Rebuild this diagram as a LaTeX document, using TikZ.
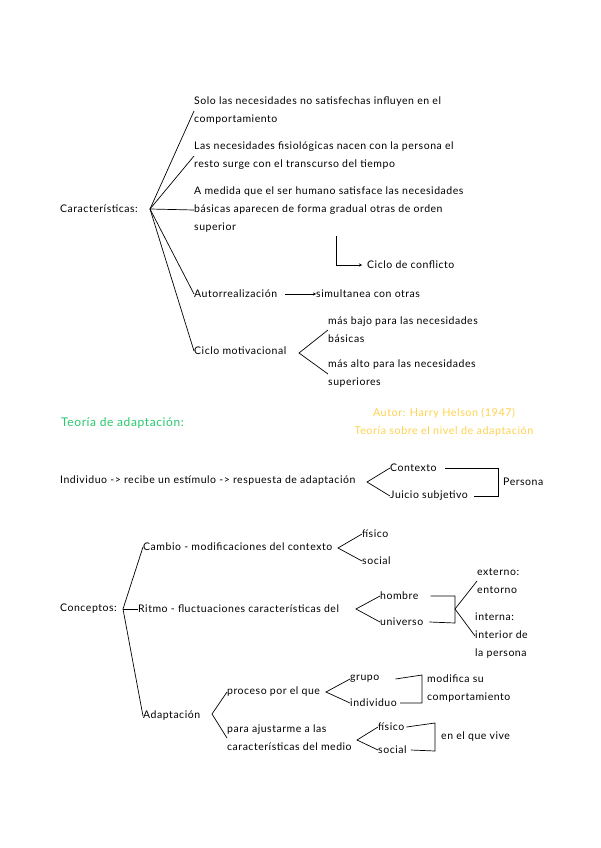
\documentclass[tikz,border=0pt]{standalone}
\usepackage{fontspec}
\setmainfont{Lato}[LetterSpace=5]
\usetikzlibrary{arrows.meta}
\definecolor{tgreen}{RGB}{40,200,110}
\definecolor{tyellow}{RGB}{255,210,80}
\begin{document}
\begin{tikzpicture}[x=1pt,y=-1pt,
  txt/.style={inner sep=0pt,anchor=west,align=left,font=\fontsize{10.5}{18}\selectfont},
  ln/.style={line width=0.7pt,black},
  arr/.style={ln,-{Stealth[length=3pt,width=3pt]}}]
\useasboundingbox (0,0) rectangle (600,848);
\fill[white] (0,0) rectangle (600,848);
% --- Características
\node[txt] (car) at (60,209) {Características:};
\coordinate (cv) at (150,209);
\node[txt] (n1) at (194,111) {Solo las necesidades no satisfechas influyen en el\\comportamiento};
\node[txt] (n2) at (194,156) {Las necesidades fisiológicas nacen con la persona el\\resto surge con el transcurso del tiempo};
\node[txt] (n3) at (194,210) {A medida que el ser humano satisface las necesidades\\básicas aparecen de forma gradual otras de orden\\superior};
\node[txt] (auto) at (194,294) {Autorrealización};
\node[txt] (ciclo) at (194,351) {Ciclo motivacional};
\draw[ln] (cv) -- (n1.west);
\draw[ln] (cv) -- (n2.west);
\draw[ln] (cv) -- (n3.west);
\draw[ln] (cv) -- (auto.west);
\draw[ln] (cv) -- (ciclo.west);
\node[txt] (conf) at (367,265) {Ciclo de conflicto};
\coordinate (cft) at (336,236);
\draw[arr] (cft) |- ([xshift=-5pt]conf.west);
\node[txt] (sim) at (316,294) {simultanea con otras};
\draw[arr] ([xshift=8pt]auto.east) -- (sim.west);
\node[txt] (bajo) at (328,330) {más bajo para las necesidades\\básicas};
\node[txt] (alto) at (328,374) {más alto para las necesidades\\superiores};
\coordinate (cmv) at (299,353);
\draw[ln] (bajo.west) -- (cmv) -- (alto.west);
% --- Teoría de adaptación
\node[txt,text=tgreen,font=\fontsize{12}{18}\selectfont] (teo) at (61,423) {Teoría de adaptación:};
\node[inner sep=0pt,align=center,text=tyellow,font=\fontsize{10.8}{18}\selectfont] (autor) at (444,422) {Autor: Harry Helson (1947)\\Teoría sobre el nivel de adaptación};
\node[txt] (ind) at (60,481) {Individuo -> recibe un estímulo -> respuesta de adaptación};
\coordinate (iv) at (367,482);
\node[txt] (ctx) at (390,468) {Contexto};
\node[txt] (jui) at (390,496) {Juicio subjetivo};
\draw[ln] (ctx.west) -- (iv) -- (jui.west);
\node[txt] (per) at (503,482) {Persona};
\draw[ln] ([xshift=8pt]ctx.east) -- (498,468) -- (498,496) -- ([xshift=6pt]jui.east);
% --- Conceptos
\node[txt] (con) at (60,609) {Conceptos:};
\coordinate (kv) at (123,609);
\node[txt] (cam) at (143,547) {Cambio - modificaciones del contexto};
\node[txt] (rit) at (138,609) {Ritmo - fluctuaciones características del};
\node[txt] (ada) at (143,716) {Adaptación};
\draw[ln] (cam.west) -- (kv) -- (ada.west);
\draw[ln] (kv) -- (rit.west);
\coordinate (cav) at (338,548);
\node[txt] (fis1) at (362,534) {físico};
\node[txt] (soc1) at (362,561) {social};
\draw[ln] (fis1.west) -- (cav) -- (soc1.west);
\coordinate (rv) at (356,609);
\node[txt] (hom) at (380,596) {hombre};
\node[txt] (uni) at (380,622) {universo};
\draw[ln] (hom.west) -- (rv) -- (uni.west);
\coordinate (bv) at (455,609);
\draw[ln] ([xshift=12pt]hom.east) -- (455,596) -- (455,623) -- ([xshift=6pt]uni.east);
\node[txt] (ext) at (477,581) {externo:\\entorno};
\node[txt] (int) at (475,636) {interna:\\interior de\\la persona};
\draw[ln] (ext.west) -- (bv) -- (int.west);
% Adaptación
\coordinate (av) at (212,714);
\node[txt] (pro) at (227,692) {proceso por el que};
\node[txt] (aju) at (227,738) {para ajustarme a las\\características del medio};
\draw[ln] (pro.west) -- (av) -- (aju.west);
\coordinate (pv) at (326,692);
\node[txt] (gru) at (350,679) {grupo};
\node[txt] (indi) at (350,703) {individuo};
\draw[ln] (gru.west) -- (pv) -- (indi.west);
\draw[ln] ([xshift=16pt]gru.east) -- (422,675) -- (422,703) -- ([xshift=3pt]indi.east);
\node[txt] (mod) at (427,689) {modifica su\\comportamiento};
\coordinate (mv) at (357,740);
\node[txt] (fis2) at (378,727) {físico};
\node[txt] (soc2) at (378,750) {social};
\draw[ln] (fis2.west) -- (mv) -- (soc2.west);
\draw[ln] ([xshift=2pt]fis2.east) -- (435,723) -- (435,751) -- ([xshift=4pt]soc2.east);
\node[txt] (viv) at (441,737) {en el que vive};
\end{tikzpicture}
\end{document}
